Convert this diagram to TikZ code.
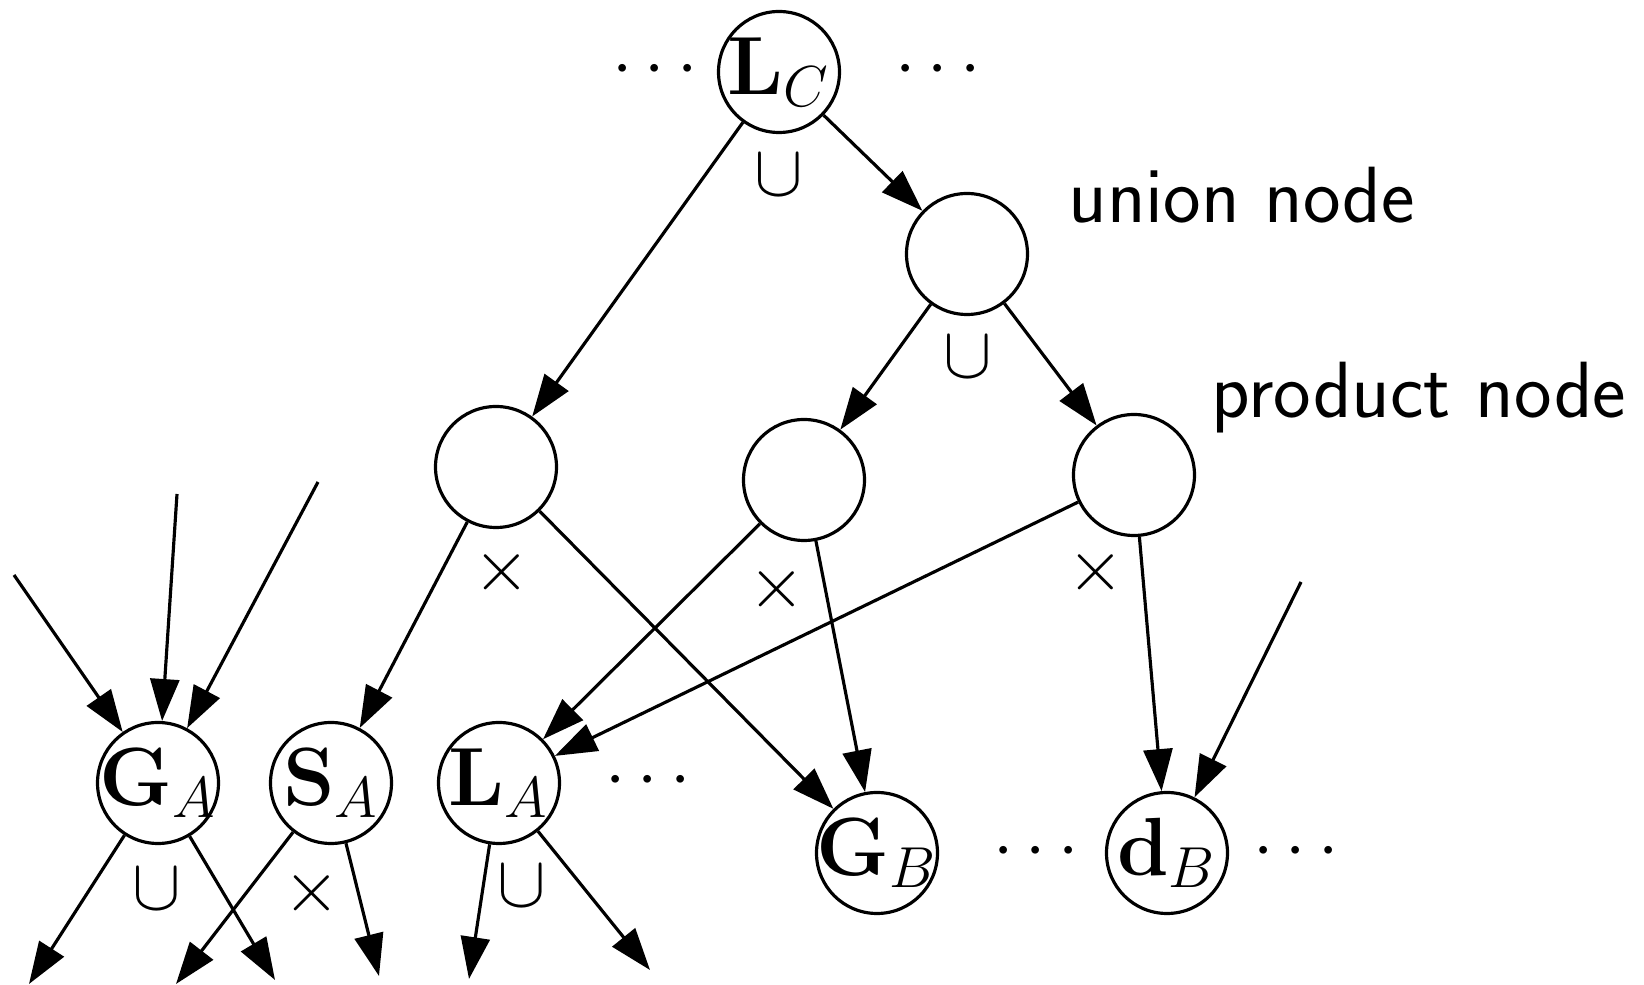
\RequirePackage{fix-cm}
\documentclass[tikz,border=0pt]{standalone}
\usepackage{amssymb,amsmath}
\usepackage{tikz}
\usetikzlibrary{arrows.meta}

\begin{document}
\begin{tikzpicture}[>={Triangle[length=0.42cm, width=0.29cm]}, line width=0.9pt, x=1cm, y=-1cm, font=\fontsize{20.74}{25}\selectfont]
		\tikzset{nd/.style={circle, draw, inner sep=0pt, minimum size=1.21cm}}
		\tikzset{lab/.style={inner sep=0pt, font=\fontsize{23.5}{28}\selectfont}}
		\tikzset{tag/.style={anchor=base west, inner sep=0pt, font=\fontsize{22.7}{27}\selectfont\sffamily}}
		\useasboundingbox (0,0) rectangle (16.44,9.85);
		% union and product nodes
		\node[nd, label={[lab]center:$\mathbf{L}_C$}] (lc) at (7.79,0.72) {};
		\node[nd] (un) at (9.67,2.54) {};
		\node[nd] (p1) at (4.96,4.67) {};
		\node[nd] (p2) at (8.04,4.80) {};
		\node[nd] (p3) at (11.34,4.75) {};
		% bottom row
		\node[nd, label={[lab]center:$\mathbf{G}_A$}] (ga) at (1.58,7.83) {};
		\node[nd, label={[lab]center:$\mathbf{S}_A$}] (sa) at (3.31,7.83) {};
		\node[nd, label={[lab]center:$\mathbf{L}_A$}] (la) at (4.99,7.83) {};
		\node[nd, label={[lab]center:$\mathbf{G}_B$}] (gb) at (8.77,8.53) {};
		\node[nd, label={[lab]center:$\mathbf{d}_B$}] (db) at (11.67,8.53) {};
		% dots
		\node (d1) at (6.61,0.70) {$\cdots$};
		\node (d2) at (9.44,0.70) {$\cdots$};
		\node (d3) at (6.54,7.81) {$\cdots$};
		\node (d4) at (10.42,8.52) {$\cdots$};
		\node (d5) at (13.02,8.52) {$\cdots$};
		% operators
		\node (o1) at (7.79,1.75) {$\cup$};
		\node (o2) at (9.68,3.57) {$\cup$};
		\node (o3) at (5.02,5.72) {$\times$};
		\node (o4) at (7.77,5.89) {$\times$};
		\node (o5) at (10.96,5.72) {$\times$};
		\node (o6) at (1.57,8.89) {$\cup$};
		\node (o7) at (3.12,8.93) {$\times$};
		\node (o8) at (5.22,8.86) {$\cup$};
		% labels
		\node[tag] (t1) at (10.67,2.23) {union node};
		\node[tag] (t2) at (12.10,4.18) {product node};
		% free ends
		\coordinate (a1) at (0.14,5.75);
		\coordinate (a2) at (1.77,4.94);
		\coordinate (a3) at (3.18,4.82);
		\coordinate (a4) at (13.01,5.82);
		\coordinate (b1) at (0.29,9.84);
		\coordinate (b2) at (2.75,9.80);
		\coordinate (b3) at (1.76,9.84);
		\coordinate (b4) at (3.79,9.76);
		\coordinate (b5) at (4.69,9.79);
		\coordinate (b6) at (6.50,9.70);
		% edges
		\draw[->] (lc) -- (p1);
		\draw[->] (lc) -- (un);
		\draw[->] (un) -- (p2);
		\draw[->] (un) -- (p3);
		\draw[->] (p1) -- (sa);
		\draw[->] (p1) -- (gb);
		\draw[->] (p2) -- (la);
		\draw[->] (p2) -- (gb);
		\draw[->] (p3) -- (la);
		\draw[->] (p3) -- (db);
		\draw[->] (a1) -- (ga);
		\draw[->] (a2) -- (ga);
		\draw[->] (a3) -- (ga);
		\draw[->] (a4) -- (db);
		\draw[->] (ga) -- (b1);
		\draw[->] (ga) -- (b2);
		\draw[->] (sa) -- (b3);
		\draw[->] (sa) -- (b4);
		\draw[->] (la) -- (b5);
		\draw[->] (la) -- (b6);
	\end{tikzpicture}
\end{document}
